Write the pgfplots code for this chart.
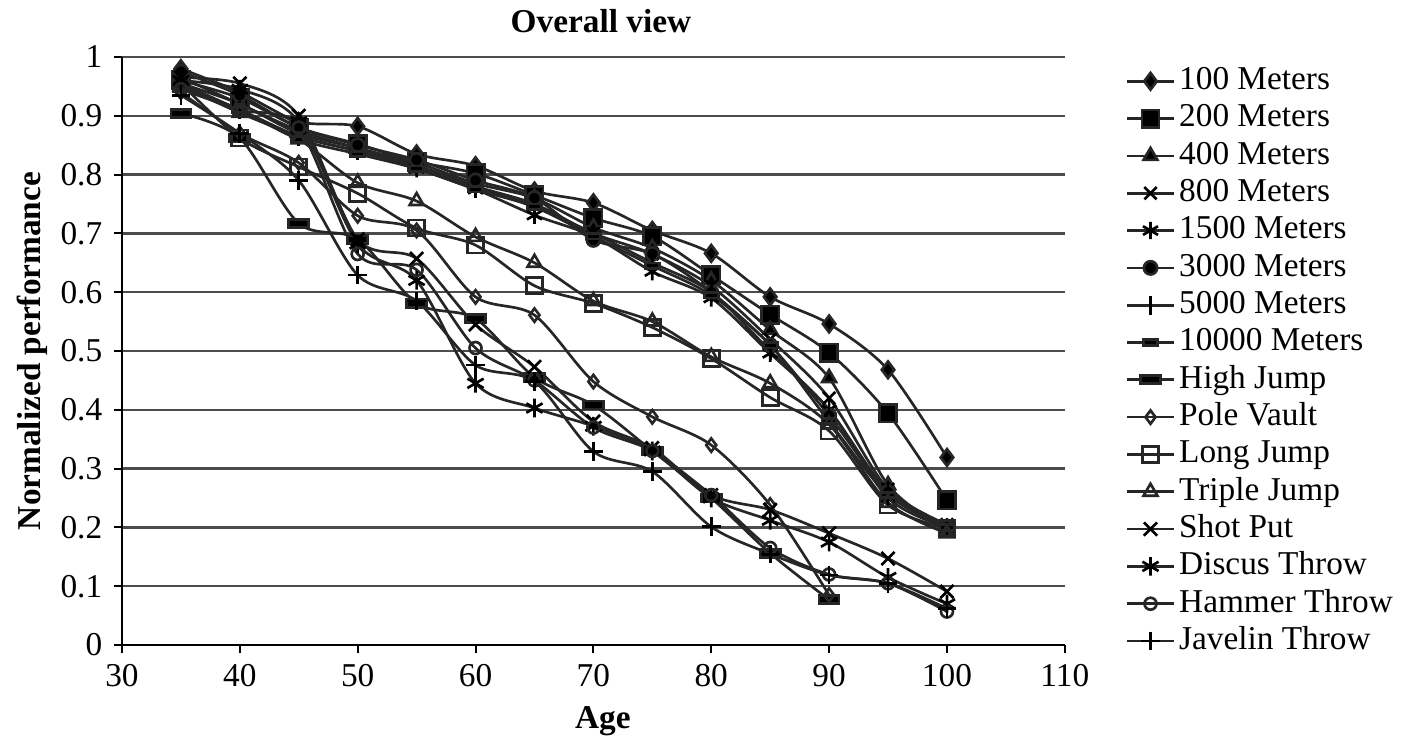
\documentclass[border=0pt]{standalone}
\usepackage{pgfplots}
\pgfplotsset{compat=1.18}
\usepackage{fontspec}
\setmainfont{Liberation Serif}
\begin{document}
\begin{tikzpicture}
\begin{axis}[
  width=283pt, height=176.5pt, scale only axis,
  xmin=30, xmax=110, ymin=0, ymax=1,
  xtick={30,40,50,60,70,80,90,100,110},
  ytick={0,0.1,0.2,0.3,0.4,0.5,0.6,0.7,0.8,0.9,1},
  yticklabels={0,0.1,0.2,0.3,0.4,0.5,0.6,0.7,0.8,0.9,1},
  ymajorgrids,
  major grid style={black!70, line width=0.7pt},
  axis x line*=bottom, axis y line*=left,
  axis line style={black, line width=0.7pt},
  tick style={black, line width=0.6pt},
  tick align=outside, major tick length=2.4pt,
  ticklabel style={font=\fontsize{10}{12}\selectfont},
  /pgf/number format/assume math mode=true,
  every axis title shift=0pt,
  title={\textbf{Overall view}},
  title style={at={(axis description cs:0.508,1)}, anchor=base, yshift=7.2pt, font=\fontsize{10}{12}\selectfont},
  xlabel={\textbf{Age}},
  xlabel style={at={(axis description cs:0.51,-0.1427)}, anchor=base, font=\fontsize{10}{12}\selectfont},
  ylabel={\textbf{Normalized performance}},
  ylabel style={at={(axis description cs:-0.0859,0.5)}, anchor=base, rotate=0, font=\fontsize{10}{12}\selectfont},
  legend style={draw=none, fill=none, at={(1,1)}, anchor=north west, xshift=18pt, yshift=-1.5pt,
    font=\fontsize{10}{11}\selectfont, inner sep=0pt, row sep=0pt,
    nodes={text height=7pt, text depth=2pt, inner sep=1.1pt}},
  legend cell align=left,
  legend image code/.code={\draw[mark repeat=2,mark phase=2] plot coordinates {(0cm,0cm)(0.25cm,0cm)(0.5cm,0cm)};},
  every axis plot/.append style={black!85, line width=0.8pt, smooth, solid, mark options={solid, black}},
]
% 100 Meters
\addplot[black!85, mark=diamond*, mark size=2.5pt, mark options={fill=black}] coordinates {(35,0.98)(40,0.94)(45,0.89)(50,0.882)(55,0.835)(60,0.815)(65,0.772)(70,0.752)(75,0.705)(80,0.666)(85,0.592)(90,0.546)(95,0.468)(100,0.319)};
\addlegendentry{100 Meters}
% 200 Meters
\addplot[black!85, mark=square*, mark size=2.6pt, mark options={fill=black}] coordinates {(35,0.96)(40,0.93)(45,0.88)(50,0.852)(55,0.822)(60,0.802)(65,0.765)(70,0.726)(75,0.695)(80,0.629)(85,0.562)(90,0.497)(95,0.394)(100,0.246)};
\addlegendentry{200 Meters}
% 400 Meters
\addplot[black!85, mark=triangle*, mark size=2.4pt, mark options={fill=black}] coordinates {(35,0.965)(40,0.92)(45,0.875)(50,0.845)(55,0.82)(60,0.785)(65,0.76)(70,0.71)(75,0.675)(80,0.62)(85,0.536)(90,0.454)(95,0.272)(100,0.195)};
\addlegendentry{400 Meters}
% 800 Meters
\addplot[black!85, mark=x, mark size=2.6pt] coordinates {(35,0.955)(40,0.92)(45,0.87)(50,0.845)(55,0.815)(60,0.78)(65,0.75)(70,0.70)(75,0.665)(80,0.61)(85,0.52)(90,0.42)(95,0.265)(100,0.205)};
\addlegendentry{800 Meters}
% 1500 Meters
\addplot[black!85, mark=asterisk, mark size=2.6pt] coordinates {(35,0.95)(40,0.91)(45,0.865)(50,0.84)(55,0.81)(60,0.775)(65,0.731)(70,0.695)(75,0.635)(80,0.59)(85,0.496)(90,0.40)(95,0.25)(100,0.2)};
\addlegendentry{1500 Meters}
% 3000 Meters
\addplot[black!85, mark=*, mark size=2pt, mark options={fill=black}] coordinates {(35,0.975)(40,0.935)(45,0.88)(50,0.85)(55,0.825)(60,0.79)(65,0.76)(70,0.689)(75,0.665)(80,0.60)(85,0.51)(90,0.39)(95,0.26)(100,0.2)};
\addlegendentry{3000 Meters}
% 5000 Meters
\addplot[black!85, mark=|, mark size=2.8pt] coordinates {(35,0.955)(40,0.91)(45,0.865)(50,0.84)(55,0.815)(60,0.78)(65,0.745)(70,0.70)(75,0.65)(80,0.60)(85,0.50)(90,0.40)(95,0.26)(100,0.2)};
\addlegendentry{5000 Meters}
% 10000 Meters
\addplot[black!85, mark=square*, mark size=1.4pt, mark options={fill=black, xscale=1.5, yscale=0.6}] coordinates {(35,0.95)(40,0.91)(45,0.86)(50,0.835)(55,0.81)(60,0.775)(65,0.745)(70,0.695)(75,0.645)(80,0.595)(85,0.51)(90,0.38)(95,0.255)(100,0.2)};
\addlegendentry{10000 Meters}
% High Jump
\addplot[black!85, mark=square*, mark size=2pt, mark options={fill=black, xscale=1.5, yscale=0.6}] coordinates {(35,0.904)(40,0.862)(45,0.717)(50,0.69)(55,0.581)(60,0.555)(65,0.455)(70,0.408)(75,0.33)(80,0.25)(85,0.156)(90,0.077)};
\addlegendentry{High Jump}
% Pole Vault
\addplot[black!85, mark=diamond, mark size=2pt, mark options={fill=white}] coordinates {(35,0.94)(40,0.87)(45,0.82)(50,0.73)(55,0.705)(60,0.592)(65,0.561)(70,0.448)(75,0.388)(80,0.34)(85,0.238)(90,0.085)};
\addlegendentry{Pole Vault}
% Long Jump
\addplot[black!85, mark=square, mark size=2.4pt, mark options={fill=white}] coordinates {(35,0.955)(40,0.862)(45,0.813)(50,0.768)(55,0.709)(60,0.68)(65,0.611)(70,0.581)(75,0.54)(80,0.487)(85,0.421)(90,0.364)(95,0.238)(100,0.198)};
\addlegendentry{Long Jump}
% Triple Jump
\addplot[black!85, mark=triangle, mark size=2.4pt, mark options={fill=white}] coordinates {(35,0.95)(40,0.905)(45,0.86)(50,0.786)(55,0.755)(60,0.694)(65,0.65)(70,0.585)(75,0.55)(80,0.49)(85,0.445)(90,0.375)(95,0.242)(100,0.19)};
\addlegendentry{Triple Jump}
% Shot Put
\addplot[black!85, mark=x, mark size=2.8pt] coordinates {(35,0.965)(40,0.955)(45,0.90)(50,0.69)(55,0.657)(60,0.545)(65,0.473)(70,0.38)(75,0.335)(80,0.255)(85,0.23)(90,0.19)(95,0.147)(100,0.091)};
\addlegendentry{Shot Put}
% Discus Throw
\addplot[black!85, mark=asterisk, mark size=2.8pt] coordinates {(35,0.96)(40,0.945)(45,0.89)(50,0.682)(55,0.62)(60,0.445)(65,0.403)(70,0.372)(75,0.33)(80,0.25)(85,0.212)(90,0.175)(95,0.115)(100,0.07)};
\addlegendentry{Discus Throw}
% Hammer Throw
\addplot[black!85, mark=o, mark size=1.8pt, mark options={fill=white}] coordinates {(35,0.945)(40,0.91)(45,0.88)(50,0.665)(55,0.638)(60,0.505)(65,0.45)(70,0.37)(75,0.33)(80,0.255)(85,0.165)(90,0.12)(95,0.105)(100,0.057)};
\addlegendentry{Hammer Throw}
% Javelin Throw
\addplot[black!85, mark=+, mark size=2.8pt] coordinates {(35,0.935)(40,0.87)(45,0.79)(50,0.629)(55,0.585)(60,0.476)(65,0.448)(70,0.329)(75,0.295)(80,0.201)(85,0.155)(90,0.119)(95,0.105)(100,0.062)};
\addlegendentry{Javelin Throw}
\coordinate (O) at (rel axis cs:0,0);
\end{axis}
\pgfresetboundingbox
\path[use as bounding box] (O) ++(-36.6pt,-27.3pt) rectangle ++(422pt,220.9pt);
\end{tikzpicture}
\end{document}
